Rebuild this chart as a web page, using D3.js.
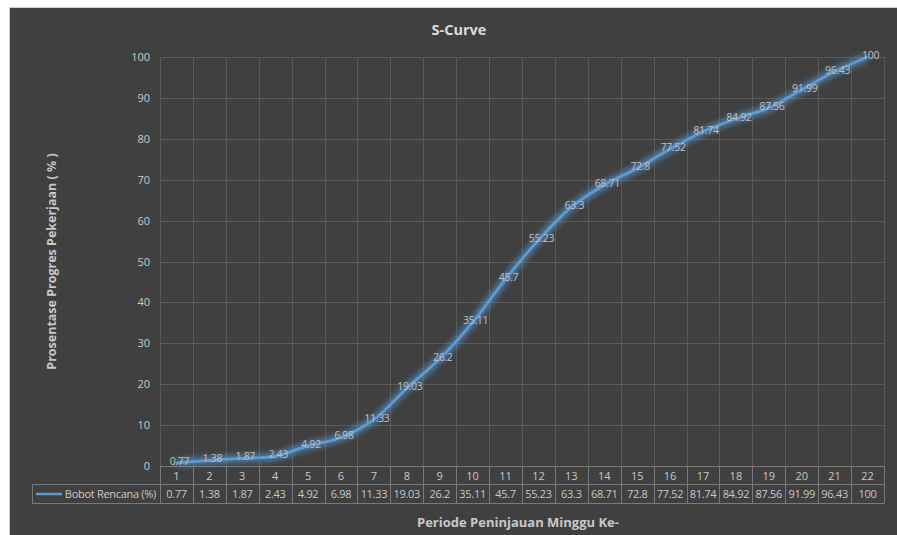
<!DOCTYPE html>
<html><head><meta charset="utf-8">
<script src="https://cdn.jsdelivr.net/npm/d3@7"></script>
<style>
html,body{margin:0;padding:0;background:#fff;}
svg{display:block;}
text{font-family:"Open Sans","Noto Sans",sans-serif;}
</style></head>
<body>
<svg id="c" width="897" height="535"></svg>
<script>
const weeks = ["1","2","3","4","5","6","7","8","9","10","11","12","13","14","15","16","17","18","19","20","21","22"];
const values = [0.77,1.38,1.87,2.43,4.92,6.98,11.33,19.03,26.2,35.11,45.7,55.23,63.3,68.71,72.8,77.52,81.74,84.92,87.56,91.99,96.43,100];
const yTicks = [0,10,20,30,40,50,60,70,80,90,100];
const seriesName = "Bobot Rencana (%)";
const title = "S-Curve";
const yTitle = "Prosentase Progres Pekerjaan ( % )";
const xTitle = "Periode Peninjauan Minggu Ke-";

const W = 897, H = 535;
const svg = d3.select("#c");
const bg = "#404040";
svg.append("rect").attr("x",0).attr("y",0).attr("width",W).attr("height",H).attr("fill","#fff");
svg.append("rect").attr("x",10).attr("y",7).attr("width",W-10).attr("height",H-7).attr("fill",bg);
svg.append("line").attr("x1",9.5).attr("x2",9.5).attr("y1",7).attr("y2",H).attr("stroke","#cfcfcf");
svg.append("line").attr("x1",9.5).attr("x2",W).attr("y1",7.5).attr("y2",7.5).attr("stroke","#cfcfcf");

const m = {left:160, right:884, top:57, bottom:466};
const x = d3.scaleBand().domain(weeks).range([m.left,m.right]).padding(0);
const y = d3.scaleLinear().domain([0,100]).range([m.bottom,m.top]);
const cx = d => x(d) + x.bandwidth()/2;

const defs = svg.append("defs");
const f = defs.append("filter").attr("id","glow").attr("x","-10%").attr("y","-10%").attr("width","120%").attr("height","120%");
f.append("feGaussianBlur").attr("in","SourceGraphic").attr("stdDeviation",3.5).attr("result","b");
const fm = f.append("feMerge");
fm.append("feMergeNode").attr("in","b");
fm.append("feMergeNode").attr("in","b");
fm.append("feMergeNode").attr("in","SourceGraphic");

const gridC = "#5a5a5a";
svg.append("g").selectAll("line").data(yTicks.filter(t=>t>0)).join("line")
  .attr("x1",m.left).attr("x2",m.right)
  .attr("y1",d=>Math.round(y(d))+0.5).attr("y2",d=>Math.round(y(d))+0.5)
  .attr("stroke",gridC).attr("stroke-width",1);
const bounds = weeks.map(w=>x(w)).concat([m.right]);
svg.append("g").selectAll("line").data(bounds).join("line")
  .attr("x1",d=>Math.round(d)+0.5).attr("x2",d=>Math.round(d)+0.5)
  .attr("y1",m.top).attr("y2",m.bottom)
  .attr("stroke",gridC).attr("stroke-width",1);

const yAxis = d3.axisLeft(y).tickValues(yTicks).tickSize(0).tickPadding(10);
const ya = svg.append("g").attr("transform",`translate(${m.left},0)`).call(yAxis);
ya.select(".domain").remove();
ya.selectAll("text").attr("fill","#c8c8c8").style("font-size","11px").style("font-family","'Open Sans',sans-serif");

const tC = "#7a7a7a";
const r1 = m.bottom, r2 = 484.5, r3 = 503.5;
const tg = svg.append("g");
tg.append("line").attr("x1",m.left).attr("x2",m.right).attr("y1",r1+0.5).attr("y2",r1+0.5).attr("stroke",tC);
tg.append("line").attr("x1",32).attr("x2",m.right).attr("y1",r2).attr("y2",r2).attr("stroke",tC);
tg.append("line").attr("x1",32).attr("x2",m.right).attr("y1",r3).attr("y2",r3).attr("stroke",tC);
tg.append("line").attr("x1",32.5).attr("x2",32.5).attr("y1",r2).attr("y2",r3).attr("stroke",tC);
tg.selectAll("line.v").data(bounds).join("line").attr("class","v")
  .attr("x1",d=>Math.round(d)+0.5).attr("x2",d=>Math.round(d)+0.5)
  .attr("y1",r1).attr("y2",r3).attr("stroke",tC);
tg.selectAll("text.cat").data(weeks).join("text").attr("class","cat")
  .attr("x",d=>cx(d)).attr("y",(r1+r2)/2+4.5).attr("text-anchor","middle")
  .attr("fill","#c8c8c8").style("font-size","11px").text(d=>d);
tg.selectAll("text.val").data(values).join("text").attr("class","val")
  .attr("x",(d,i)=>cx(weeks[i])).attr("y",(r2+r3)/2+4).attr("text-anchor","middle")
  .attr("fill","#c8c8c8").style("font-size","11px").style("letter-spacing","-0.3px").text(d=>d);
tg.append("line").attr("x1",36).attr("x2",62).attr("y1",(r2+r3)/2).attr("y2",(r2+r3)/2)
  .attr("stroke","#5b9bd5").attr("stroke-width",2.5);
tg.append("text").attr("x",156).attr("y",(r2+r3)/2+4).attr("text-anchor","end")
  .attr("fill","#c8c8c8").style("font-size","11px").style("letter-spacing","-0.3px").text(seriesName);

const line = d3.line().x((d,i)=>cx(weeks[i])).y(d=>y(d)).curve(d3.curveCatmullRom.alpha(0.5));
svg.append("path").datum(values).attr("d",line).attr("fill","none")
  .attr("stroke","#5b9bd5").attr("stroke-width",2.75).attr("filter","url(#glow)");

svg.append("g").selectAll("text").data(values).join("text")
  .attr("x",(d,i)=>cx(weeks[i])+3).attr("y",d=>y(d)+2).attr("text-anchor","middle")
  .attr("fill","#c0c0c0").style("font-size","10.5px").style("letter-spacing","-0.3px").text(d=>d);

svg.append("text").attr("x",459).attr("y",35).attr("text-anchor","middle")
  .attr("fill","#dcdcdc").style("font-size","14.5px").style("font-weight","bold").text(title);
svg.append("text").attr("transform",`translate(56,${(m.top+m.bottom)/2}) rotate(-90)`).attr("text-anchor","middle")
  .attr("fill","#c8c8c8").style("font-size","12.5px").style("font-weight","bold").text(yTitle);
svg.append("text").attr("x",518).attr("y",527).attr("text-anchor","middle")
  .attr("fill","#c8c8c8").style("font-size","13px").style("font-weight","bold").text(xTitle);
</script>
</body></html>
